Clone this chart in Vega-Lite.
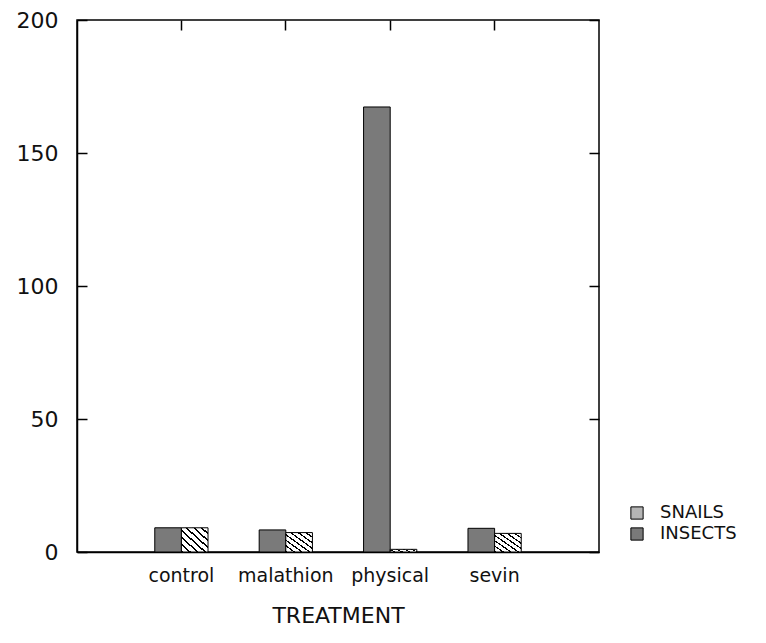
{
  "$schema": "https://vega.github.io/schema/vega-lite/v6.json",
  "autosize": {"type": "none"},
  "width": 522,
  "height": 532,
  "padding": {"left": 77, "top": 20, "right": 167, "bottom": 91},
  "background": "white",
  "config": {
    "view": {"stroke": "black", "strokeWidth": 1.5},
    "font": "DejaVu Sans",
    "axis": {"domainColor": "black", "tickColor": "black", "tickWidth": 1.5, "labelColor": "#111", "titleColor": "#111", "grid": false, "labelFont": "DejaVu Sans", "titleFont": "DejaVu Sans", "titleFontWeight": "normal"}
  },
  "data": {
    "values": [
      {"treatment": "control", "species": "INSECTS", "count": 9.1},
      {"treatment": "control", "species": "SNAILS", "count": 9.1},
      {"treatment": "malathion", "species": "INSECTS", "count": 8.3},
      {"treatment": "malathion", "species": "SNAILS", "count": 7.3},
      {"treatment": "physical", "species": "INSECTS", "count": 167.3},
      {"treatment": "physical", "species": "SNAILS", "count": 1.0},
      {"treatment": "sevin", "species": "INSECTS", "count": 8.9},
      {"treatment": "sevin", "species": "SNAILS", "count": 7.0}
    ]
  },
  "layer": [
    {
      "mark": {"type": "bar", "stroke": "black", "strokeWidth": 1},
      "encoding": {
        "x": {
          "field": "treatment", "type": "nominal",
          "sort": ["control", "malathion", "physical", "sevin"],
          "scale": {"paddingInner": 0.49, "paddingOuter": 0.745},
          "axis": {"orient": "bottom", "labelAngle": 0, "labelFontSize": 19, "labelPadding": 14, "ticks": false, "domain": true, "domainWidth": 1.5, "title": "TREATMENT", "titleFontSize": 22, "titlePadding": 20}
        },
        "xOffset": {"field": "species", "type": "nominal", "sort": ["INSECTS", "SNAILS"], "scale": {"paddingInner": 0, "paddingOuter": 0}},
        "y": {
          "field": "count", "type": "quantitative",
          "scale": {"domain": [0, 200], "nice": false},
          "axis": {"orient": "left", "values": [0, 50, 100, 150, 200], "labelFontSize": 22, "tickSize": -10, "labelPadding": 29, "domainWidth": 1.5, "title": null}
        },
        "fill": {
          "condition": {
            "test": "datum.species === 'SNAILS'",
            "value": {
              "gradient": "linear", "x1": 0, "y1": 1, "x2": 1, "y2": 0,
              "stops": [
                {"offset": 0, "color": "black"}, {"offset": 0.04, "color": "black"}, {"offset": 0.04, "color": "white"}, {"offset": 0.1429, "color": "white"},
                {"offset": 0.1429, "color": "black"}, {"offset": 0.1829, "color": "black"}, {"offset": 0.1829, "color": "white"}, {"offset": 0.2857, "color": "white"},
                {"offset": 0.2857, "color": "black"}, {"offset": 0.3257, "color": "black"}, {"offset": 0.3257, "color": "white"}, {"offset": 0.4286, "color": "white"},
                {"offset": 0.4286, "color": "black"}, {"offset": 0.4686, "color": "black"}, {"offset": 0.4686, "color": "white"}, {"offset": 0.5714, "color": "white"},
                {"offset": 0.5714, "color": "black"}, {"offset": 0.6114, "color": "black"}, {"offset": 0.6114, "color": "white"}, {"offset": 0.7143, "color": "white"},
                {"offset": 0.7143, "color": "black"}, {"offset": 0.7543, "color": "black"}, {"offset": 0.7543, "color": "white"}, {"offset": 0.8571, "color": "white"},
                {"offset": 0.8571, "color": "black"}, {"offset": 0.8971, "color": "black"}, {"offset": 0.8971, "color": "white"}, {"offset": 1, "color": "white"}
              ]
            }
          },
          "field": "species", "type": "nominal",
          "scale": {"domain": ["SNAILS", "INSECTS"], "range": ["#b5b5b5", "#7a7a7a"]},
          "legend": {
            "title": null, "orient": "none", "legendX": 551, "legendY": 484,
            "symbolType": "square", "symbolSize": 150, "symbolStrokeColor": "black", "symbolStrokeWidth": 1,
            "labelFontSize": 18, "labelFont": "DejaVu Sans", "labelColor": "#111", "rowPadding": 3, "labelOffset": 14,
            "encode": {
              "symbols": {
                "update": {
                  "fill": [
                    {"test": "datum.value === 'SNAILS'", "value": {
                      "gradient": "linear", "x1": 0, "y1": 1, "x2": 1, "y2": 0,
                      "stops": [
                        {"offset": 0, "color": "black"}, {"offset": 0.1, "color": "black"}, {"offset": 0.1, "color": "white"}, {"offset": 0.25, "color": "white"},
                        {"offset": 0.25, "color": "black"}, {"offset": 0.35, "color": "black"}, {"offset": 0.35, "color": "white"}, {"offset": 0.5, "color": "white"},
                        {"offset": 0.5, "color": "black"}, {"offset": 0.6, "color": "black"}, {"offset": 0.6, "color": "white"}, {"offset": 0.75, "color": "white"},
                        {"offset": 0.75, "color": "black"}, {"offset": 0.85, "color": "black"}, {"offset": 0.85, "color": "white"}, {"offset": 1, "color": "white"}
                      ]
                    }},
                    {"value": "#7a7a7a"}
                  ],
                  "stroke": {"value": "black"},
                  "strokeWidth": {"value": 1},
                  "opacity": {"value": 1}
                }
              }
            }
          }
        }
      }
    },
    {
      "mark": {"type": "bar", "opacity": 0},
      "encoding": {
        "x": {
          "field": "treatment", "type": "nominal",
          "sort": ["control", "malathion", "physical", "sevin"],
          "axis": {"orient": "top", "labels": false, "ticks": true, "tickSize": -10, "domain": false, "title": null}
        },
        "xOffset": {"field": "species", "type": "nominal", "sort": ["INSECTS", "SNAILS"]},
        "y": {
          "field": "count", "type": "quantitative",
          "axis": {"orient": "right", "values": [0, 50, 100, 150, 200], "labels": false, "tickSize": -10, "domain": false, "title": null}
        }
      }
    }
  ],
  "resolve": {"axis": {"x": "independent", "y": "independent"}}
}
